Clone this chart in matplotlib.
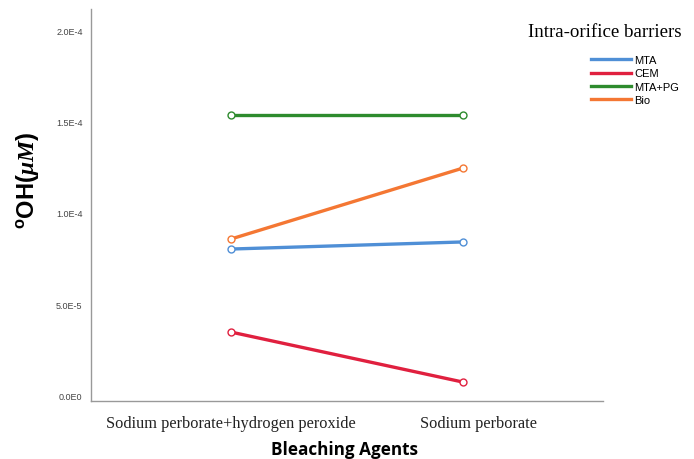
import matplotlib
matplotlib.use("Agg")
import matplotlib.pyplot as plt
import matplotlib.transforms as mtransforms

plt.rcParams["mathtext.fontset"] = "custom"
plt.rcParams["mathtext.rm"] = "Liberation Serif"
plt.rcParams["mathtext.it"] = "Liberation Serif:italic:bold"
plt.rcParams["mathtext.bf"] = "Liberation Sans:bold"

# Data
agents = ["Sodium perborate+hydrogen peroxide", "Sodium perborate"]
barriers = ["MTA", "CEM", "MTA+PG", "Bio"]
mta = [8.02e-5, 8.41e-5]
cem = [3.46e-5, 7.1e-6]
mta_pg = [1.538e-4, 1.538e-4]
bio = [8.57e-5, 1.247e-4]
yticks = [0.0, 5e-5, 1e-4, 1.5e-4, 2e-4]
ytick_labels = ["0.0E0", "5.0E-5", "1.0E-4", "1.5E-4", "2.0E-4"]

colors = ["#4f8fd6", "#e0203f", "#2e8b2e", "#f47733"]
series = [mta, cem, mta_pg, bio]

fig = plt.figure(figsize=(6.94, 4.6), dpi=100)
ax = fig.add_axes([0.131, 0.126, 0.738, 0.852])

x = range(len(agents))
for name, vals, c in zip(barriers, series, colors):
    ax.plot(x, vals, color=c, lw=2.4, marker="o", ms=5, mfc="white",
            mec=c, mew=1.0, label=name, zorder=3)

ax.set_xlim(-0.603, 1.603)
ax.set_ylim(-3.3e-6, 2.12e-4)
ax.set_yticks(yticks)
ax.set_yticklabels(ytick_labels, fontsize=6.5, color="#444444",
                   family="Liberation Sans")
ax.set_xticks(list(x))
ax.set_xticklabels(agents, fontsize=11.8, family="Liberation Serif", color="#222222")
ax.tick_params(axis="both", length=0)
ax.tick_params(axis="x", pad=10)
ax.tick_params(axis="y", pad=6)
# second category label sits a bit right of its point in the reference
lbl = ax.get_xticklabels()[1]
lbl.set_transform(lbl.get_transform() +
                  mtransforms.ScaledTranslation(15 / 100, 0, fig.dpi_scale_trans))

for side in ["top", "right"]:
    ax.spines[side].set_visible(False)
for side in ["left", "bottom"]:
    ax.spines[side].set_color("#999999")
    ax.spines[side].set_linewidth(1.0)

fig.text(0.497, 1 - 450 / 460, "Bleaching Agents", fontsize=12.3,
         fontweight="bold", family="Open Sans", ha="center", va="center")
fig.text(28 / 694, 1 - 180 / 460, r"$\mathbf{^o}$OH($\mathit{\mu M}$)",
         fontsize=17, fontweight="bold", family="Liberation Sans",
         rotation=90, ha="center", va="center")

fig.text(0.761, 0.93, "Intra-orifice barriers", fontsize=13.6,
         family="Liberation Serif", va="center", ha="left")
leg = ax.legend(loc="upper left", bbox_to_anchor=(0.843, 0.89),
                bbox_transform=fig.transFigure, frameon=False,
                handlelength=3.6, handletextpad=0.35,
                labelspacing=0.3, borderpad=0,
                prop={"family": "Liberation Sans", "size": 8})
for line in leg.get_lines():
    line.set_marker("")
    line.set_linewidth(2.4)

fig.savefig("out.png", dpi=100)
